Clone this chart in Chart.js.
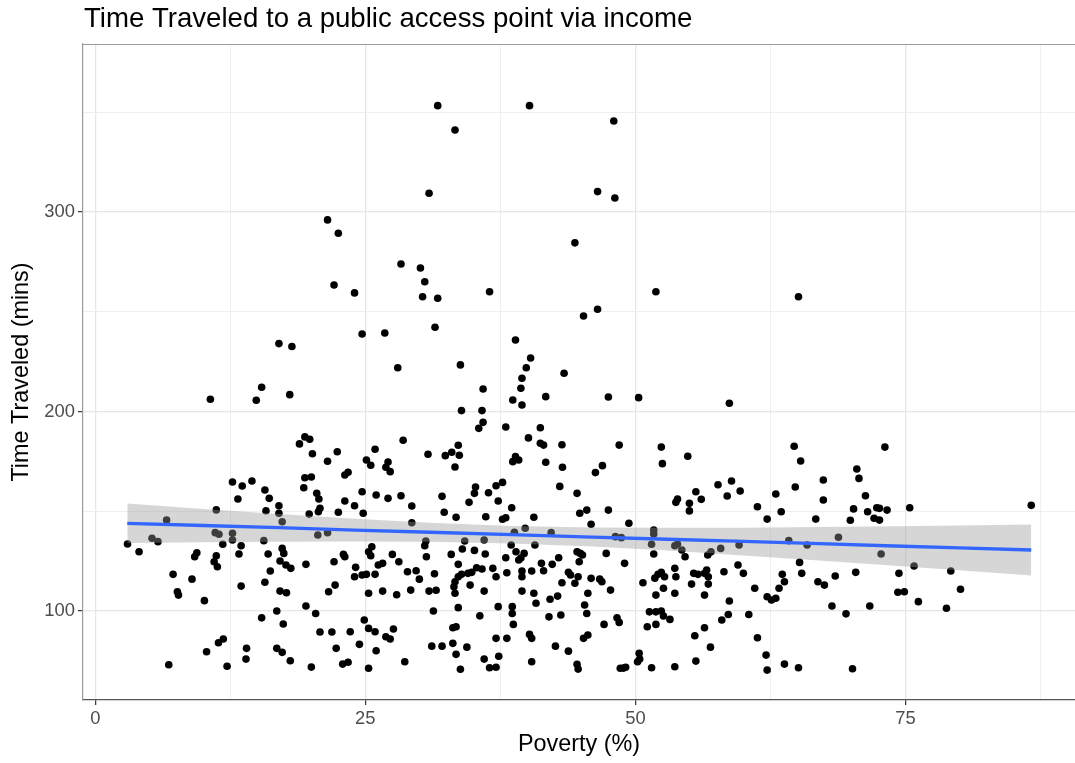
<!DOCTYPE html>
<html><head><meta charset="utf-8">
<script src="https://cdn.jsdelivr.net/npm/chart.js@4.4.1/dist/chart.umd.min.js"></script>
<style>html,body{margin:0;padding:0;background:#fff;overflow:hidden;}</style>
</head><body>
<canvas id="c" width="1075" height="763"></canvas>
<script>
const chartTitle = "Time Traveled to a public access point via income";
const xAxisTitle = "Poverty (%)";
const yAxisTitle = "Time Traveled (mins)";

const povertyPct = [
21.5,31.7,40.2,33.3,30.9,22.5,28.3,30.1,44.4,48.0,46.5,48.1,
22.1,17.0,18.2,15.4,10.65,14.9,18.0,19.4,19.85,18.9,20.1,21.5,12.7,13.6,14.5,15.7,19.4,20.0,19.3,
24.0,30.5,30.3,31.7,36.5,31.45,24.7,26.8,28.0,33.8,38.9,40.3,39.9,39.5,39.4,43.4,35.9,38.65,39.5,41.7,33.9,35.8,35.9,35.5,38.0,41.2,40.1,41.2,41.5,43.2,43.25,43.0,41.7,38.9,38.65,39.2,37.7,37.1,35.2,33.6,33.0,32.4,33.7,33.3,30.8,28.5,25.9,25.1,25.5,27.1,26.9,27.3,22.4,23.1,23.4,
45.2,46.5,51.9,65.1,47.5,50.3,58.7,48.5,52.4,52.5,46.3,46.95,54.85,64.7,65.3,64.8,67.4,57.65,58.9,
73.1,70.5,70.7,
2.98,4.05,5.25,5.8,6.6,7.2,7.6,7.7,6.8,8.95,10.1,9.4,9.2,11.2,11.1,11.45,11.8,11.2,11.0,11.3,10.3,11.4,11.85,12.2,12.7,12.7,13.5,13.3,13.5,13.2,14.0,13.95,15.4,16.1,15.8,15.6,16.0,16.2,15.7,16.8,17.4,17.0,17.0,17.3,17.3,17.45,17.1,17.65,18.1,17.1,17.7,16.8,17.3,18.05,20.5,20.7,20.8,20.65,19.8,20.6,21.5,19.5,21.6,19.5,20.4,20.8,21.9,20.0,
24.7,26.0,27.1,28.3,23.1,24.0,29.3,22.5,24.8,29.3,32.1,32.3,33.4,34.6,35.1,36.4,37.3,36.15,38.55,37.7,38.0,40.6,39.8,38.8,44.6,42.2,30.6,30.5,30.65,34.2,33.98,35.1,36.0,36.1,32.95,33.6,38.0,38.5,38.95,39.2,39.7,39.4,40.7,41.3,42.3,42.9,44.6,41.5,40.4,39.5,39.5,38.1,37.1,36.8,35.8,35.3,34.85,34.5,33.9,33.6,33.3,33.2,33.3,34.7,36.0,39.5,40.6,40.8,42.1,42.8,43.2,43.8,44.0,44.4,44.7,37.3,38.6,38.6,38.7,35.6,33.6,31.3,29.2,27.9,26.6,25.3,30.9,31.55,30.0,29.7,28.9,31.4,28.1,27.5,26.6,26.2,25.9,25.1,24.7,24.0,24.1,25.3,25.5,25.6,22.97,23.1,22.1,22.2,24.9,25.3,25.9,23.6,26.9,27.3,27.6,24.45,22.3,26.0,22.9,23.4,25.3,28.65,31.15,32.1,33.1,33.4,34.4,33.1,33.4,33.8,36.0,36.5,37.1,37.35,37.1,38.1,40.2,40.4,40.4,42.6,43.8,44.6,44.7,42.0,43.1,44.8,
44.85,45.5,45.9,47.5,49.4,55.6,56.1,53.9,53.75,55.0,55.0,58.5,59.7,61.3,62.2,63.0,63.5,66.7,67.4,48.15,48.7,51.7,51.7,51.5,53.65,53.9,54.3,54.6,56.7,57.0,57.9,59.6,64.2,65.9,44.9,45.1,47.3,49.0,51.7,59.5,60.0,58.2,65.2,65.4,63.6,63.8,63.3,66.9,67.5,61.05,62.2,62.6,63.0,58.7,58.6,58.0,60.5,61.3,62.1,62.2,63.8,65.1,56.4,55.5,56.95,55.6,53.65,51.5,50.2,50.4,50.35,48.6,48.9,49.1,45.2,45.6,47.1,48.3,48.5,51.1,51.9,51.3,51.9,52.4,52.6,53.2,51.9,52.6,53.65,56.4,50.7,51.8,52.1,52.4,52.7,53.65,53.75,55.4,55.8,56.4,56.6,56.75,56.75,55.2,45.6,45.3,45.5,45.9,46.7,46.9,47.7,
71.3,70.2,71.5,72.35,72.6,73.3,72.1,72.6,69.9,75.4,86.65,68.8,72.75,75.8,79.2,68.5,70.4,74.4,74.3,74.9,80.1,76.2,78.8,68.2,69.5,71.7,70.1
];
const timeTraveled = [
296.1,353.4,353.4,341.2,309.5,289.4,274.0,272.0,284.6,345.7,310.3,307.1,
263.5,234.1,232.6,212.2,206.2,205.7,208.5,187.3,186.1,183.8,178.9,175.1,164.7,162.7,165.2,160.7,166.8,167.2,161.8,
259.5,265.1,257.6,256.8,260.1,242.3,238.9,239.4,222.0,223.4,235.9,226.9,222.0,216.7,211.7,219.2,211.3,205.8,203.3,207.5,200.5,200.5,194.6,191.6,192.3,191.9,186.8,184.1,183.2,183.4,172.1,162.5,174.6,177.4,174.9,175.7,164.5,162.8,162.2,183.1,179.6,177.9,178.1,172.2,178.6,185.6,181.1,175.7,173.1,174.7,172.1,169.9,179.9,168.2,169.6,
247.9,251.3,260.1,257.6,207.3,207.0,204.2,183.2,182.2,173.9,169.4,172.9,177.6,182.6,175.2,162.2,165.7,163.3,165.2,
182.2,171.2,166.5,
133.6,129.7,136.5,134.8,145.6,118.4,109.7,108.0,73.1,116.0,105.2,129.2,127.2,150.7,139.3,138.5,133.5,127.7,124.7,122.2,79.6,84.1,86.0,72.3,139.0,135.6,132.7,128.6,112.5,156.2,81.3,75.9,96.6,156.5,150.3,135.3,128.6,120.1,114.4,100.0,93.5,152.8,149.0,144.8,131.4,128.9,125.1,123.1,121.4,110.0,109.2,81.3,79.3,75.1,159.0,156.2,151.5,149.8,148.6,138.1,139.3,123.4,109.7,102.5,98.8,89.5,89.5,71.9,
159.8,158.2,156.5,157.8,155.2,152.8,152.7,149.5,149.0,144.3,157.5,149.5,147.0,154.5,159.0,159.3,155.2,147.3,151.8,146.0,146.8,147.0,141.5,139.5,159.0,139.3,135.1,132.7,127.2,135.1,131.1,130.4,135.6,128.6,128.4,123.4,126.7,133.1,129.7,125.6,128.9,126.6,133.1,123.9,123.4,126.7,129.7,120.2,120.1,120.1,117.2,119.2,117.2,121.4,121.1,121.7,119.4,118.9,118.4,117.2,114.7,112.2,108.9,113.0,110.0,110.0,108.9,103.9,105.9,107.5,114.2,119.4,118.1,113.9,117.2,102.2,102.2,98.8,93.3,97.6,101.7,100.0,110.5,108.2,110.0,108.9,110.0,110.4,116.0,120.2,119.7,118.7,124.7,128.4,123.9,123.1,118.4,118.4,118.1,117.2,121.9,129.7,127.7,132.2,128.4,127.2,124.7,113.0,95.5,91.3,89.6,89.6,87.1,86.0,91.0,83.3,81.3,80.1,73.4,74.3,71.3,74.6,82.4,82.4,83.8,78.3,81.9,91.6,92.1,70.8,75.9,71.6,71.8,77.3,86.3,86.3,88.3,86.3,74.6,82.4,79.9,73.3,70.9,97.1,98.0,124.7,
149.0,150.6,143.5,150.6,144.0,159.8,156.0,156.2,154.5,154.0,150.2,157.7,160.2,152.3,146.1,158.7,149.8,146.1,155.7,137.3,136.8,140.6,138.6,133.5,132.7,133.6,130.6,127.2,128.1,129.7,131.4,133.1,135.3,133.1,128.9,128.1,128.9,123.9,128.6,123.1,118.9,119.7,124.4,118.9,118.4,114.7,111.4,114.7,113.0,111.4,107.2,105.5,106.4,105.0,98.3,95.5,98.3,86.6,77.9,70.4,73.4,71.6,91.6,87.6,81.9,74.9,72.1,71.6,74.6,75.9,78.8,71.3,71.4,71.8,86.3,88.0,93.3,96.6,94.3,92.1,93.3,99.6,99.6,100.0,97.5,95.8,108.0,111.4,108.9,108.0,114.2,116.5,118.4,119.4,117.2,121.4,117.2,118.9,118.4,118.9,120.6,117.2,113.5,113.5,108.9,103.0,98.8,116.4,116.0,114.7,110.5,
157.8,151.2,149.8,151.8,151.5,150.6,146.5,145.6,145.5,151.8,153.0,137.0,128.6,122.6,120.1,117.6,119.4,118.9,109.4,109.7,110.9,104.7,101.4,102.5,98.6,102.5,71.1
];

// linear fit with 95% confidence band
const fitX     = [2.96, 10, 17, 24, 31, 38.5, 46, 53, 60, 67, 74, 80, 86.65];
const fitY     = [144.0, 142.9, 141.8, 140.6, 139.5, 138.3, 137.1, 136.0, 134.9, 133.8, 132.6, 131.7, 130.6];
const fitLower = [134.1, 134.5, 134.8, 134.9, 134.7, 133.9, 132.3, 130.3, 127.9, 125.4, 122.7, 120.4, 117.8];
const fitUpper = [153.9, 151.2, 148.7, 146.3, 144.3, 142.7, 141.9, 141.7, 141.8, 142.1, 142.5, 142.9, 143.4];

const xMajorTicks = [0, 25, 50, 75];
const xMinorTicks = [12.5, 37.5, 62.5, 87.5];
const yMajorTicks = [100, 200, 300];
const yMinorTicks = [150, 250, 350];
const xRange = [-1.14, 90.7];
const yRange = [55.4, 384.3];

const FONT = '"Liberation Sans", Arial, Helvetica, sans-serif';
Chart.defaults.font.family = FONT;

const pts = povertyPct.map((x, i) => ({x: x, y: timeTraveled[i]}));
const lineOf = arr => fitX.map((x, i) => ({x: x, y: arr[i]}));

const frame = {
  id: 'frame',
  afterDraw(chart) {
    const {ctx, chartArea: a} = chart;
    ctx.save();
    ctx.strokeStyle = '#9a9a9a';
    ctx.lineWidth = 1.2;
    ctx.beginPath();
    ctx.moveTo(a.left, a.top + 0.5);
    ctx.lineTo(chart.width, a.top + 0.5);
    ctx.stroke();
    ctx.fillStyle = '#000';
    ctx.font = '27.6px ' + FONT;
    ctx.textAlign = 'left';
    ctx.textBaseline = 'alphabetic';
    ctx.fillText(chartTitle, a.left + 1, 27);
    ctx.restore();
  }
};

const isMajor = (v, majors) => majors.some(m => Math.abs(m - v) < 1e-9);

new Chart(document.getElementById('c'), {
  type: 'scatter',
  data: {
    datasets: [
      {type: 'line', label: 'fit', data: lineOf(fitY), borderColor: '#3366FF', borderWidth: 3.3,
       pointRadius: 0, fill: false, tension: 0, order: 0},
      {type: 'line', label: 'upper', data: lineOf(fitUpper), borderColor: 'rgba(0,0,0,0)', borderWidth: 0,
       pointRadius: 0, backgroundColor: 'rgba(153,153,153,0.4)', fill: '+1', tension: 0, order: 1},
      {type: 'line', label: 'lower', data: lineOf(fitLower), borderColor: 'rgba(0,0,0,0)', borderWidth: 0,
       pointRadius: 0, fill: false, tension: 0, order: 2},
      {type: 'scatter', label: 'points', data: pts, backgroundColor: '#000', borderWidth: 0,
       pointRadius: 3.8, pointHoverRadius: 3.8, order: 3}
    ]
  },
  options: {
    responsive: false,
    animation: false,
    devicePixelRatio: 1,
    layout: {autoPadding: false, padding: {top: 44, left: 0, right: 0, bottom: 0}},
    plugins: {legend: {display: false}, tooltip: {enabled: false}, title: {display: false}},
    scales: {
      x: {
        type: 'linear', min: xRange[0], max: xRange[1],
        afterBuildTicks: s => { s.ticks = xMajorTicks.concat(xMinorTicks).sort((a,b)=>a-b).map(v => ({value: v})); },
        afterFit: s => { s.height = 63; s.paddingLeft = 0; s.paddingRight = 0; },
        ticks: {autoSkip: false, maxRotation: 0, padding: 3, color: '#4D4D4D', font: {size: 18.4},
          callback: v => isMajor(v, xMajorTicks) ? String(v) : ''},
        grid: {
          color: c => isMajor(c.tick.value, xMajorTicks) ? '#E6E6E6' : '#EFEFEF',
          lineWidth: c => isMajor(c.tick.value, xMajorTicks) ? 1.3 : 1,
          tickLength: 5,
          tickColor: c => isMajor(c.tick.value, xMajorTicks) ? '#333333' : 'rgba(0,0,0,0)',
          tickWidth: 1.2
        },
        border: {display: true, color: '#555555', width: 1.3},
        title: {display: true, text: xAxisTitle, color: '#000', font: {size: 23.4}, padding: {top: 0, bottom: 4}}
      },
      y: {
        type: 'linear', min: yRange[0], max: yRange[1],
        afterBuildTicks: s => { s.ticks = yMajorTicks.concat(yMinorTicks).sort((a,b)=>a-b).map(v => ({value: v})); },
        afterFit: s => { s.width = 83; s.paddingTop = 0; s.paddingBottom = 0; },
        ticks: {autoSkip: false, padding: 3, color: '#4D4D4D', font: {size: 18.4},
          callback: v => isMajor(v, yMajorTicks) ? String(v) : ''},
        grid: {
          color: c => isMajor(c.tick.value, yMajorTicks) ? '#E6E6E6' : '#EFEFEF',
          lineWidth: c => isMajor(c.tick.value, yMajorTicks) ? 1.3 : 1,
          tickLength: 5,
          tickColor: c => isMajor(c.tick.value, yMajorTicks) ? '#333333' : 'rgba(0,0,0,0)',
          tickWidth: 1.2
        },
        border: {display: true, color: '#9a9a9a', width: 1.2},
        title: {display: true, text: yAxisTitle, color: '#000', font: {size: 23.4}, padding: {top: 8, bottom: 0}}
      }
    }
  },
  plugins: [frame]
});
</script>
</body></html>
